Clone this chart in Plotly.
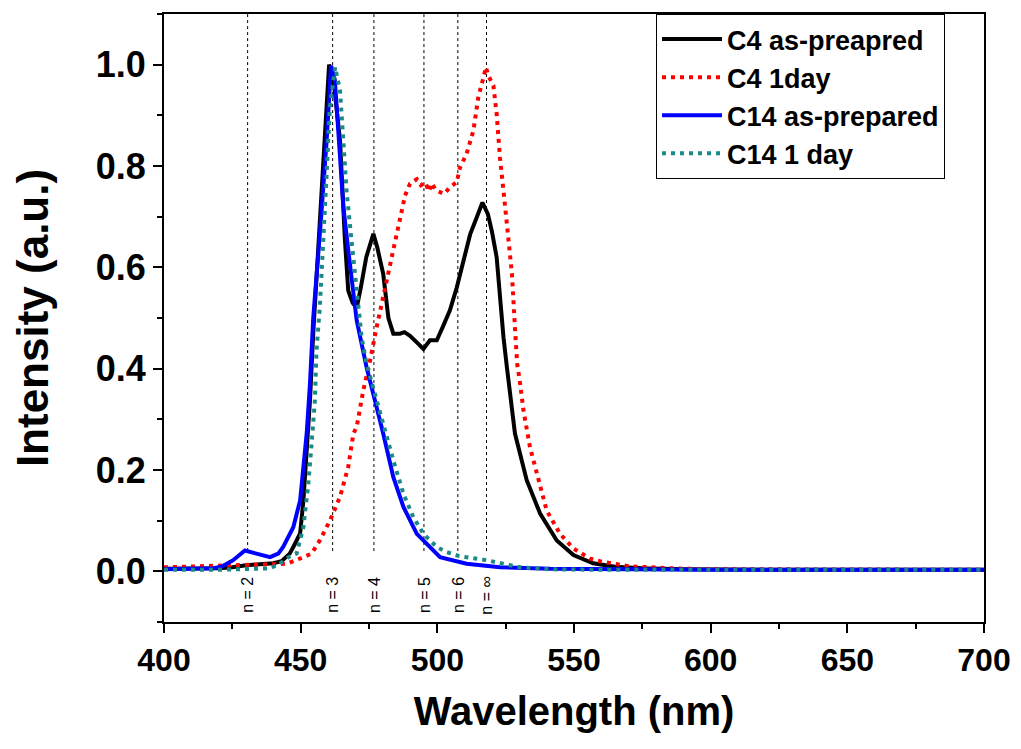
import plotly.graph_objects as go

# ---------------- data ----------------
wl_c4_fresh = [400, 410, 420, 425, 430, 435, 440, 443, 446, 447.5, 449.8, 451, 452.2, 453.4, 454.6, 457, 459,
               460.4, 462, 464.4, 466.2, 467.4, 469, 470.5, 472, 474, 476.6, 478, 480.2, 482.1, 483.9,
               486.3, 488, 490, 492.5, 494.9, 497.3, 499.8, 502.2, 504.6, 507.1, 509.5, 512, 514.5,
               516.5, 518.5, 520, 521.7, 522.9, 524.2, 525.4, 528.4, 532.7, 537.6, 543.7, 549.8, 557,
               565, 575, 590, 620, 660, 700]
int_c4_fresh = [0.005, 0.005, 0.006, 0.008, 0.012, 0.014, 0.016, 0.02, 0.035, 0.05, 0.075, 0.14, 0.24, 0.337,
                0.47, 0.69, 0.87, 1.0, 0.97, 0.85, 0.653, 0.554, 0.53, 0.52, 0.56, 0.62, 0.666, 0.64,
                0.587, 0.50, 0.469, 0.469, 0.472, 0.465, 0.452, 0.439, 0.456, 0.456, 0.485, 0.515, 0.56,
                0.61, 0.665, 0.70, 0.728, 0.705, 0.67, 0.62, 0.535, 0.462, 0.405, 0.272, 0.18, 0.114,
                0.061, 0.032, 0.016, 0.009, 0.006, 0.004, 0.003, 0.003, 0.003]

wl_c4_1day = [400, 426.6, 440, 444.9, 451, 454, 457, 460.7, 464.4, 467.4, 469.3, 470.5, 472.9, 475.4,
              477.8, 480.2, 483.9, 486.3, 488.2, 490, 492.5, 494, 495.5, 497, 497.9, 499.5, 501, 502.5,
              504.6, 507.1, 508.3, 510.7, 513.2, 515, 516.9, 517.8, 518.7, 520.5, 521.7, 522.9, 524.2,
              525.4, 527.3, 528.4, 529.2, 530.3, 531.5, 533.9, 536.4, 540, 544.9, 549.8, 555.9, 559.5,
              570, 590, 620, 700]
int_c4_1day = [0.008, 0.012, 0.014, 0.015, 0.028, 0.035, 0.061, 0.1, 0.147, 0.206, 0.272, 0.285, 0.357,
               0.416, 0.482, 0.541, 0.64, 0.692, 0.742, 0.765, 0.774, 0.762, 0.768, 0.75, 0.766, 0.752,
               0.748, 0.745, 0.758, 0.768, 0.797, 0.824, 0.87, 0.936, 0.975, 0.995, 0.978, 0.959, 0.903,
               0.817, 0.751, 0.686, 0.587, 0.48, 0.41, 0.37, 0.318, 0.245, 0.193, 0.12, 0.074, 0.045,
               0.025, 0.02, 0.01, 0.005, 0.004, 0.003]

wl_c14_fresh = [400, 410, 418, 421, 425.3, 429.6, 433.9, 438.8, 441.8, 443.6, 447.3, 449.8, 451, 452.2,
                453.4, 454.6, 457.5, 459.5, 461.1, 462.5, 464, 465.6, 467.5, 469.3, 470.5, 474.1, 476.6,
                480.2, 483.9, 487.6, 492.5, 497.3, 501, 510.7, 522.9, 541.2, 560, 600, 650, 700]
int_c14_fresh = [0.004, 0.005, 0.006, 0.009, 0.022, 0.041, 0.035, 0.028, 0.035, 0.048, 0.087, 0.14,
                 0.206, 0.272, 0.37, 0.50, 0.70, 0.85, 0.998, 0.97, 0.85, 0.72, 0.63, 0.554, 0.495,
                 0.403, 0.35, 0.272, 0.186, 0.127, 0.074, 0.048, 0.028, 0.015, 0.008, 0.005, 0.004,
                 0.003, 0.003, 0.003]

wl_c14_1day = [400, 420, 438.8, 442.4, 445.5, 448.5, 451, 452.8, 454, 455.2, 455.8, 457, 459.5, 460.7,
               462.6, 464.4, 465.6, 466.8, 468.6, 470.5, 472.3, 474.1, 477, 480.2, 483.9, 487.6, 491.2,
               494.9, 499.8, 503.4, 508, 515.6, 518, 526.6, 530.3, 541.2, 560, 600, 700]
int_c14_1day = [0.003, 0.003, 0.006, 0.015, 0.028, 0.035, 0.087, 0.173, 0.252, 0.337, 0.436, 0.521,
                0.784, 0.916, 0.995, 0.949, 0.85, 0.75, 0.653, 0.554, 0.462, 0.41, 0.35, 0.291, 0.219,
                0.153, 0.107, 0.074, 0.048, 0.038, 0.03, 0.025, 0.022, 0.012, 0.008, 0.004, 0.003,
                0.003, 0.003]

n_positions = [430.6, 461.7, 476.8, 495.1, 507.5, 518.0]
n_labels = ["n = 2", "n = 3", "n = 4", "n = 5", "n = 6", "n = ∞"]

x_ticks = [400, 450, 500, 550, 600, 650, 700]
y_ticks = [0.0, 0.2, 0.4, 0.6, 0.8, 1.0]

# ---------------- figure ----------------
fig = go.Figure()
fig.add_trace(go.Scatter(x=wl_c4_fresh, y=int_c4_fresh, mode="lines", name="C4 as-preapred",
                         line=dict(color="black", width=4)))
fig.add_trace(go.Scatter(x=wl_c4_1day, y=int_c4_1day, mode="lines", name="C4 1day",
                         line=dict(color="#ff0000", width=4, dash="4px,5px")))
fig.add_trace(go.Scatter(x=wl_c14_fresh, y=int_c14_fresh, mode="lines", name="C14 as-prepared",
                         line=dict(color="#0000ff", width=4)))
fig.add_trace(go.Scatter(x=wl_c14_1day, y=int_c14_1day, mode="lines", name="C14 1 day",
                         line=dict(color="#1a8a87", width=4, dash="4px,5px")))

for xp, lab in zip(n_positions, n_labels):
    fig.add_shape(type="line", xref="x", yref="y", x0=xp, x1=xp, y0=0.04, y1=1.1,
                  line=dict(color="black", width=1, dash="dot"), layer="below")
    fig.add_annotation(x=xp, y=-0.047, xref="x", yref="y", text=lab, textangle=-90,
                       showarrow=False, font=dict(family="Liberation Sans, Arial", size=16, color="black"))

bold_font = "Liberation Sans, Arial, sans-serif"

# the page body adds an 8px margin, so the figure is 16px smaller than the window
fig.update_layout(
    width=1005, height=733,
    margin=dict(l=156, r=29, t=6, b=119),
    plot_bgcolor="white", paper_bgcolor="white",
    showlegend=True,
    legend=dict(x=0.6, y=1.0, xanchor="left", yanchor="top",
                bgcolor="white", bordercolor="black", borderwidth=1,
                font=dict(family=bold_font, size=27, color="black", weight="bold"),
                tracegroupgap=0, itemwidth=60),
    xaxis=dict(range=[400, 700], tickvals=x_ticks, ticktext=[str(v) for v in x_ticks],
               automargin=False,
               showline=True, mirror=True, linecolor="black", linewidth=2,
               ticks="outside", ticklen=9, tickwidth=2, tickcolor="black",
               minor=dict(dtick=25, ticks="outside", ticklen=5, tickwidth=2, tickcolor="black"),
               showgrid=False, zeroline=False,
               tickfont=dict(family=bold_font, size=32, color="black", weight="bold"),
               title=dict(text="Wavelength (nm)", standoff=20,
                          font=dict(family=bold_font, size=40, color="black", weight="bold"))),
    yaxis=dict(range=[-0.1, 1.1], tickvals=y_ticks, ticktext=[f"{v:.1f}" for v in y_ticks],
               automargin=False,
               showline=True, mirror=True, linecolor="black", linewidth=2,
               ticks="outside", ticklen=9, tickwidth=2, tickcolor="black",
               minor=dict(dtick=0.1, ticks="outside", ticklen=5, tickwidth=2, tickcolor="black"),
               showgrid=False, zeroline=False,
               tickfont=dict(family=bold_font, size=36, color="black", weight="bold"),
               title=dict(text="Intensity (a.u.)", standoff=36,
                          font=dict(family=bold_font, size=44, color="black", weight="bold"))),
)

fig.write_html("out.html")
